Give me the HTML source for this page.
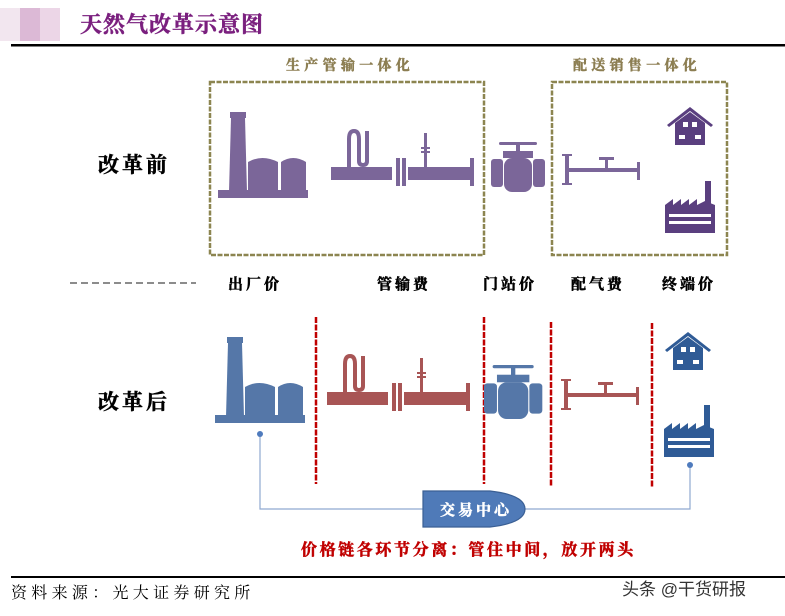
<!DOCTYPE html>
<html><head><meta charset="utf-8"><style>
html,body{margin:0;padding:0;background:#fff;}
svg{display:block;font-family:"Liberation Serif","Noto Serif CJK SC","Noto Sans CJK SC",serif;}
.b{stroke-width:0.5;}
</style></head><body>
<svg width="785" height="616" viewBox="0 0 785 616" xmlns="http://www.w3.org/2000/svg">
<defs>
<g id="fac">
  <rect x="12" y="0" width="16" height="6"/>
  <path d="M13 6 L27 6 L29 80 L11 80 Z"/>
  <path d="M30 80 L30 50 Q44 42 60 50 L60 80 Z"/>
  <path d="M63 80 L63 50 Q75 42 88 50 L88 80 Z"/>
  <rect x="0" y="78" width="90" height="8"/>
</g>
<g id="pipe">
  <rect x="0" y="36" width="61" height="13"/>
  <rect x="65" y="27" width="4" height="28"/>
  <rect x="71" y="27" width="4" height="28"/>
  <rect x="77" y="36" width="62" height="13"/>
  <rect x="93" y="2" width="3" height="34"/>
  <rect x="90" y="16" width="9" height="2"/>
  <rect x="90" y="20" width="9" height="2"/>
  <rect x="139" y="27" width="4" height="28"/>
</g>
<g id="valve">
  <rect x="8" y="0" width="38" height="3" rx="1.5"/>
  <rect x="25" y="0" width="4" height="10"/>
  <rect x="12" y="9" width="30" height="7"/>
  <rect x="13" y="16" width="28" height="34" rx="8"/>
  <rect x="0" y="17" width="12" height="28" rx="3"/>
  <rect x="42" y="17" width="12" height="28" rx="3"/>
</g>
<g id="dist">
  <rect x="3" y="0" width="4" height="31"/>
  <rect x="0" y="0" width="10" height="2"/>
  <rect x="0" y="29" width="10" height="2"/>
  <rect x="7" y="14" width="70" height="4"/>
  <rect x="43" y="5" width="3" height="10"/>
  <rect x="37" y="3" width="15" height="3"/>
  <rect x="75" y="8" width="3" height="18"/>
</g>
<g id="house">
  <path d="M0 20 L23 2 L46 20 L44 22 L23 6 L2 22 Z"/>
  <path d="M8 18 L23 7 L38 18 L38 40 L8 40 Z"/>
  <rect x="16" y="17" width="5" height="5" fill="#fff"/>
  <rect x="25" y="17" width="5" height="5" fill="#fff"/>
  <rect x="12" y="30" width="6" height="4" fill="#fff"/>
  <rect x="28" y="30" width="6" height="4" fill="#fff"/>
</g>
<g id="sfac">
  <rect x="40" y="0" width="6" height="30"/>
  <path d="M0 52 L0 24 L8 18 L8 24 L16 18 L16 24 L24 18 L24 24 L32 18 L32 24 L40 20 L50 24 L50 52 Z"/>
  <rect x="4" y="33" width="42" height="3" fill="#fff"/>
  <rect x="4" y="40" width="42" height="3" fill="#fff"/>
</g>
</defs>

<rect x="0" y="8" width="20" height="33" fill="#f2e6ef"/>
<rect x="20" y="8" width="20" height="33" fill="#dcb9d6"/>
<rect x="40" y="8" width="20" height="33" fill="#ecd6e7"/>
<text x="80" y="32" font-size="22" font-weight="bold" letter-spacing="1" fill="#7a1f7e" stroke="#7a1f7e" class="b">天然气改革示意图</text>
<rect x="11" y="44" width="774" height="2.5" fill="#000"/>

<text x="286" y="70" font-size="14" font-weight="bold" letter-spacing="4.3" fill="#8c7e52" stroke="#8c7e52" class="b">生产管输一体化</text>
<text x="573" y="70" font-size="14" font-weight="bold" letter-spacing="4.3" fill="#8c7e52" stroke="#8c7e52" class="b">配送销售一体化</text>
<rect x="210" y="82" width="274" height="173" fill="none" stroke="#8c8550" stroke-width="2.5" stroke-dasharray="5,1.5"/>
<rect x="552" y="82" width="175" height="173" fill="none" stroke="#8c8550" stroke-width="2.5" stroke-dasharray="5,1.5"/>

<text x="98" y="172" font-size="21" font-weight="bold" letter-spacing="3" fill="#000" stroke="#000" class="b">改革前</text>
<text x="98" y="409" font-size="21" font-weight="bold" letter-spacing="3" fill="#000" stroke="#000" class="b">改革后</text>

<g fill="#7b6699">
  <use href="#fac" transform="translate(218,112)"/>
  <use href="#pipe" transform="translate(331,131)"/>
  <use href="#valve" transform="translate(491,142)"/>
  <use href="#dist" transform="translate(562,154)"/>
</g>
<path d="M349 167 L349 139 Q349 131 354 131 Q359 131 359 139 L359 161 Q359 165 363 165 Q367 165 367 161 L367 131" fill="none" stroke="#7b6699" stroke-width="4"/>
<g fill="#5a3f7f">
  <use href="#house" transform="translate(667,105)"/>
  <use href="#sfac" transform="translate(665,181)"/>
</g>

<line x1="70" y1="283" x2="196" y2="283" stroke="#666" stroke-width="1.5" stroke-dasharray="7,4"/>
<g font-size="15" font-weight="bold" fill="#000" stroke="#000" class="b" letter-spacing="3">
<text x="228" y="289">出厂价</text>
<text x="377" y="289">管输费</text>
<text x="483" y="289">门站价</text>
<text x="571" y="289">配气费</text>
<text x="662" y="289">终端价</text>
</g>

<g stroke="#c00000" stroke-width="2.5" stroke-dasharray="6,1.5">
<line x1="316" y1="317" x2="316" y2="484"/>
<line x1="484" y1="317" x2="484" y2="484"/>
<line x1="551" y1="322" x2="551" y2="486"/>
<line x1="652" y1="323" x2="652" y2="488"/>
</g>

<g fill="#5577a8">
  <use href="#fac" transform="translate(215,337)"/>
  <use href="#valve" transform="translate(484,365) scale(1.08)"/>
</g>
<g fill="#a85555">
  <use href="#pipe" transform="translate(327,356)"/>
  <use href="#dist" transform="translate(561,379)"/>
</g>
<path d="M345 392 L345 364 Q345 356 350 356 Q355 356 355 364 L355 386 Q355 390 359 390 Q363 390 363 386 L363 356" fill="none" stroke="#a85555" stroke-width="4"/>
<g fill="#2f5b96">
  <use href="#house" transform="translate(665,330)"/>
  <use href="#sfac" transform="translate(664,405)"/>
</g>

<polyline points="260,434 260,509 430,509" fill="none" stroke="#8fa9d0" stroke-width="1.2"/>
<polyline points="522,509 690,509 690,465" fill="none" stroke="#8fa9d0" stroke-width="1.2"/>
<circle cx="260" cy="434" r="3" fill="#4f7bbd"/>
<circle cx="690" cy="465" r="3" fill="#4f7bbd"/>
<path d="M423 491 L490 491 Q525 495 525 509 Q525 523 490 527 L423 527 Z" fill="#4f7ab8" stroke="#3a5f94" stroke-width="1.2"/>
<text x="440" y="515" font-size="15" font-weight="bold" letter-spacing="3" fill="#fff" stroke="#fff" class="b">交易中心</text>

<text x="301" y="555" font-size="16" font-weight="bold" letter-spacing="2.6" fill="#c00000" stroke="#c00000" class="b">价格链各环节分离：管住中间，放开两头</text>

<rect x="11" y="576" width="774" height="2" fill="#000"/>
<text x="11" y="598" font-size="16" letter-spacing="4.3" fill="#000">资料来源：光大证券研究所</text>
<text x="622" y="595" font-size="17" fill="#333" font-family="Liberation Sans, Noto Sans CJK SC, sans-serif">头条 @干货研报</text>
</svg>
</body></html>
